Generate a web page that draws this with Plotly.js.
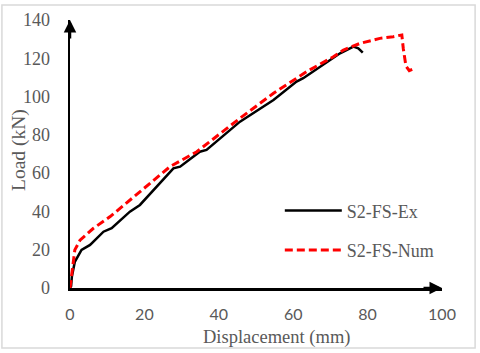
<!DOCTYPE html>
<html>
<head>
<meta charset="utf-8">
<script src="https://cdn.plot.ly/plotly-3.0.1.min.js"></script>
<style>
  body { margin: 0; background: #fff; }
  #chart { width: 480px; height: 353px; }
</style>
</head>
<body>
<div id="chart"></div>
<script>
// Load-displacement readings, S2-FS specimen
var exDisp = [0, 0.3, 0.5, 1.3, 3.1, 5.4, 9.0, 10.3, 11.2, 16.1, 18.8, 27.8, 29.6, 34.9, 36.7, 45.7, 54.7, 60.9, 62.7, 72.6, 76.2, 77.5, 78.7];
var exLoad = [0, 1, 5.9, 13.7, 19.9, 22.5, 29.4, 30.3, 31.2, 39.9, 43.4, 62.5, 63.4, 71.2, 72.1, 86.9, 98.2, 107.8, 109.6, 122.6, 126.1, 125.2, 122.9];

var numDisp = [0, 0.7, 1.3, 2.7, 6.3, 10.8, 16.5, 26.9, 34.1, 45.7, 54.7, 63.6, 70.8, 73.5, 78, 83.3, 86.9, 89.2, 89.6, 90.3, 91.2, 92.7];
var numLoad = [0, 11, 19.9, 25, 31.2, 37.3, 46.5, 63.4, 71.2, 88.7, 101.7, 113, 120.8, 124.3, 127.8, 130.4, 131.3, 132.2, 125, 116, 113.5, 114.8];

var serif = "Liberation Serif, Times New Roman, serif";
var grey = "#595959";

var trace1 = {
    x: exDisp,
    y: exLoad,
    name: "S2-FS-Ex",
    legendgroup: "a",
    mode: "lines",
    line: { color: "#000000", width: 2.5 }
};
var trace2 = {
    x: numDisp,
    y: numLoad,
    name: "S2-FS-Num",
    legendgroup: "b",
    mode: "lines",
    line: { color: "#ff0000", width: 3, dash: "8px,4px" }
};

var layout = {
    width: 480,
    height: 353,
    margin: { l: 70, r: 38, t: 20, b: 65 },
    paper_bgcolor: "#ffffff",
    plot_bgcolor: "#ffffff",
    showlegend: true,
    legend: {
        x: 0.564, y: 0.357, xanchor: "left", yanchor: "top",
        font: { family: serif, size: 18, color: grey },
        tracegroupgap: 13,
        itemwidth: 57,
        bgcolor: "rgba(0,0,0,0)"
    },
    xaxis: {
        range: [0, 100],
        tickvals: [0, 20, 40, 60, 80, 100],
        showgrid: false,
        zeroline: false,
        showline: true,
        linecolor: "#000000",
        linewidth: 2.5,
        ticks: "",
        ticklabelstandoff: 10,
        tickfont: { family: "Lato, sans-serif", size: 16, color: grey }
    },
    yaxis: {
        range: [0, 140],
        tickvals: [0, 20, 40, 60, 80, 100, 120, 140],
        showgrid: false,
        zeroline: false,
        showline: true,
        linecolor: "#000000",
        linewidth: 2.5,
        ticks: "",
        ticklabelstandoff: 14,
        tickfont: { family: serif, size: 18, color: grey }
    },
    shapes: [{
        type: "rect", xref: "paper", yref: "paper",
        x0: -0.183, x1: 1.089, y0: -0.224, y1: 1.056,
        line: { color: "#d9d9d9", width: 1.5 }
    }],
    annotations: [
        // axis arrows
        { xref: "paper", yref: "paper", x: 1, y: 0, ax: -20, ay: 0, text: "",
          showarrow: true, arrowhead: 2, arrowsize: 1, arrowwidth: 2.5, arrowcolor: "#000000" },
        { xref: "paper", yref: "paper", x: 0, y: 1, ax: 0, ay: 20, text: "",
          showarrow: true, arrowhead: 2, arrowsize: 1, arrowwidth: 2.5, arrowcolor: "#000000" },
        // axis titles
        { xref: "paper", yref: "paper", x: 0.554, y: -0.183, text: "Displacement (mm)",
          showarrow: false, xanchor: "center", yanchor: "middle",
          font: { family: serif, size: 18.5, color: grey } },
        { xref: "paper", yref: "paper", x: -0.137, y: 0.515, text: "Load (kN)", textangle: -90,
          showarrow: false, xanchor: "center", yanchor: "middle",
          font: { family: serif, size: 19.5, color: grey } }
    ]
};

Plotly.newPlot("chart", [trace1, trace2], layout, { staticPlot: true });
</script>
</body>
</html>
